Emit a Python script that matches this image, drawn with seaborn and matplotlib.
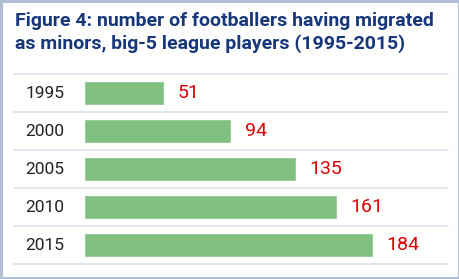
import matplotlib
matplotlib.use("Agg")
import matplotlib.pyplot as plt
import matplotlib.patches as mpatches
import matplotlib.transforms as mtransforms
import seaborn as sns
import pandas as pd

years = ["1995", "2000", "2005", "2010", "2015"]
values = [51, 94, 135, 161, 184]
title = "Figure 4: number of footballers having migrated\nas minors, big-5 league players (1995-2015)"

sns.set_theme(style="white")
plt.rcParams["font.family"] = ["Roboto", "DejaVu Sans"]

W, H = 460, 279
fig = plt.figure(figsize=(W / 100, H / 100), dpi=100)
fig.patch.set_facecolor("white")

# axes: bars from x=84px to 448px, rows from y=74px to 264px
ax = fig.add_axes([84 / W, (H - 264) / H, (448 - 84) / W, 190 / H])
df = pd.DataFrame({"year": years, "value": values})
sns.barplot(data=df, x="value", y="year", orient="h", color="#7fbf7f",
            saturation=1, width=0.65, ax=ax)
ax.set_xlim(0, 232)
ax.set_ylim(4.5, -0.5)
for s in ax.spines.values():
    s.set_visible(False)
ax.set_xticks([])
ax.set_yticks([])
ax.set_xlabel("")
ax.set_ylabel("")

# separator lines
for i in range(len(years) + 1):
    ax.axhline(i - 0.5, xmin=-70 / 364, xmax=1.0, color="#dbe2ec", lw=1.2,
               clip_on=False, zorder=0)

# year labels
trans = mtransforms.blended_transform_factory(ax.transAxes, ax.transData)
for i, y in enumerate(years):
    ax.text((45 - 84) / 364, i, y, transform=trans, ha="center", va="center",
            fontsize=12.5, color="#222222")

# value labels
ax.bar_label(ax.containers[0], labels=[str(v) for v in values], padding=10,
             fontsize=14, color="#dd0000")

# title
fig.text(15 / W, 1 - 12 / H, title, ha="left", va="top", fontsize=14,
         fontweight="bold", color="#17377a", linespacing=1.3)

# border
fig.patches.append(mpatches.Rectangle((0.002, 0.003), 0.996, 0.994,
                                      transform=fig.transFigure, fill=False,
                                      edgecolor="#b0bfd6", lw=2.2))

fig.savefig("out.png", dpi=100, facecolor="white")
